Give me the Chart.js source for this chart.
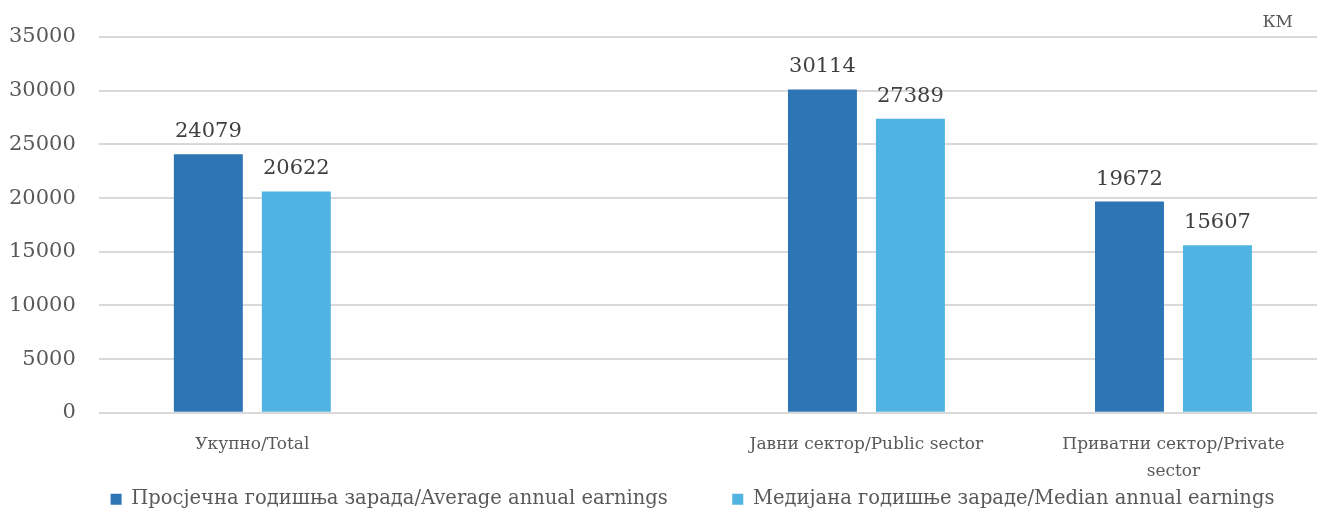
<!DOCTYPE html>
<html>
<head>
<meta charset="utf-8">
<script src="https://cdn.jsdelivr.net/npm/chart.js@4.4.1/dist/chart.umd.min.js"></script>
<style>
  html, body { margin: 0; padding: 0; background: #fff; overflow: hidden; }
  #wrap { width: 1327px; height: 511px; }
</style>
</head>
<body>
<div id="wrap"><canvas id="chart"></canvas></div>
<script>
// podaci sa grafikona
const categories = ['Укупно/Total', '', 'Јавни сектор/Public sector', ['Приватни сектор/Private', 'sector']];
const averageEarnings = [24079, null, 30114, 19672];
const medianEarnings = [20622, null, 27389, 15607];
const seriesNames = ['Просјечна годишња зарада/Average annual earnings', 'Медијана годишње зараде/Median annual earnings'];
const unitLabel = 'КМ';

const FONT = "'DejaVu Serif', serif";

// vrijednosti iznad stubica + oznaka valute
const valueLabels = {
    id: 'valueLabels',
    afterLayout(chart) {
        // legenda je u originalu malo pomjerena udesno
        chart.legend.left += 36;
        chart.legend.right += 36;
    },
    afterDatasetsDraw(chart) {
        const ctx = chart.ctx;
        ctx.save();
        ctx.font = "21px " + FONT;
        ctx.fillStyle = '#404040';
        ctx.textAlign = 'center';
        ctx.textBaseline = 'bottom';
        chart.data.datasets.forEach((ds, i) => {
            chart.getDatasetMeta(i).data.forEach((bar, j) => {
                if (ds.data[j] == null) return;
                ctx.fillText(ds.data[j], bar.x, bar.y - 12);
            });
        });
        ctx.fillStyle = '#595959';
        ctx.font = "17px " + FONT;
        ctx.textAlign = 'right';
        ctx.fillText(unitLabel, chart.chartArea.right - 34, chart.chartArea.top - 6);
        ctx.restore();
    }
};

const ctx = document.getElementById('chart').getContext('2d');
const chart = new Chart(ctx, {
    type: 'bar',
    data: {
        labels: categories,
        datasets: [{
            label: seriesNames[0],
            data: averageEarnings,
            backgroundColor: '#2E75B6',
            categoryPercentage: 0.573,
            barPercentage: 0.784
        }, {
            label: seriesNames[1],
            data: medianEarnings,
            backgroundColor: '#51B3E1',
            categoryPercentage: 0.573,
            barPercentage: 0.784
        }]
    },
    options: {
        responsive: true,
        maintainAspectRatio: false,
        animation: false,
        layout: { padding: { top: 37, left: -14, right: 0, bottom: -8 } },
        plugins: {
            tooltip: { enabled: false },
            legend: {
                position: 'bottom',
                labels: {
                    font: { family: FONT, size: 19.5 },
                    color: '#595959',
                    boxWidth: 11,
                    boxHeight: 11,
                    padding: 6,
                    // razmak izmedju stavki legende
                    generateLabels(chart) {
                        const items = Chart.defaults.plugins.legend.labels.generateLabels(chart);
                        items[0].text += '\u2003\u2003\u2003';
                        return items;
                    }
                }
            }
        },
        scales: {
            x: {
                grid: { display: false },
                border: { display: false },
                ticks: {
                    font: { family: FONT, size: 17, lineHeight: 1.55 },
                    color: '#595959',
                    maxRotation: 0,
                    autoSkip: false,
                    padding: 11
                },
                // oznake kategorija smiju ulaziti u prostor legende
                afterFit(scale) {
                    scale.height -= 12;
                }
            },
            y: {
                min: 0,
                max: 35000,
                grid: { color: '#d9d9d9', lineWidth: 2, drawTicks: false },
                border: { display: false },
                ticks: {
                    stepSize: 5000,
                    font: { family: FONT, size: 21 },
                    color: '#595959',
                    padding: 23,
                    callback: v => String(v)
                }
            }
        }
    },
    plugins: [valueLabels]
});
</script>
</body>
</html>
